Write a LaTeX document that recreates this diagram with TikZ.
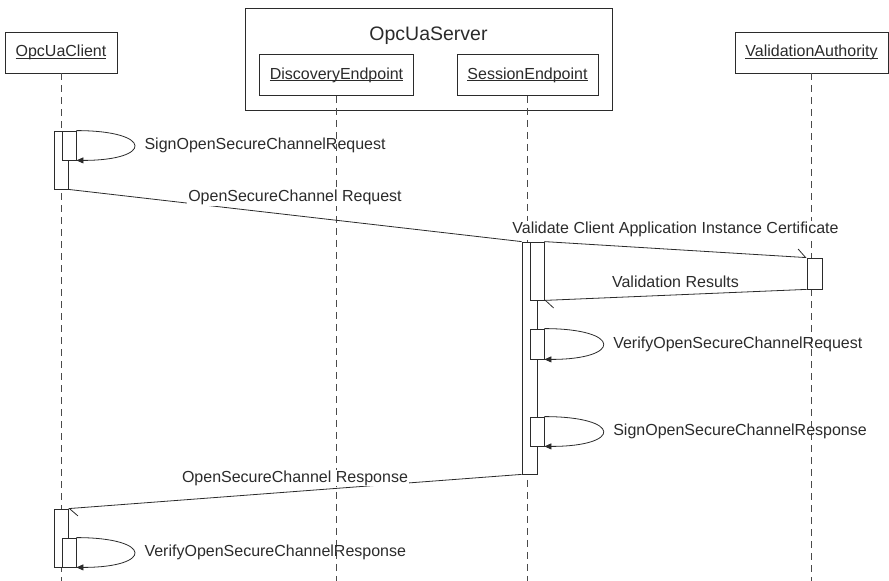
\documentclass[tikz,border=0pt]{standalone}
\usepackage{fontspec}
\setmainfont{Liberation Sans}
\usetikzlibrary{arrows.meta,positioning}
\definecolor{ink}{HTML}{2B2B2B}
\definecolor{lifegray}{HTML}{4A4A4A}
\newcommand\headname[1]{\setbox0\hbox{#1}\rlap{\rule[-1.6pt]{\wd0}{0.6pt}}\box0}

\begin{document}
\begin{tikzpicture}[x=1pt, y=-1pt, line width=0.8pt, every node/.style={font=\fontsize{16}{19}\selectfont, text=ink}]
\tikzset{head/.style={draw=ink, fill=white, minimum height=41pt, inner sep=0pt}}
\tikzset{act/.style={draw=ink, fill=white, minimum width=14pt, inner sep=0pt}}
\tikzset{life/.style={draw=lifegray, dash pattern=on 7pt off 5pt}}
\tikzset{msg/.style={draw=ink, -{Straight Barb[left, length=8pt, width=16pt]}}}
\tikzset{selfmsg/.style={draw=ink, -{Triangle[length=7pt, width=6pt]}}}
\tikzset{lbl/.style={fill=white, inner xsep=1pt, inner ysep=1pt}}
\tikzset{selflbl/.style={anchor=west, xshift=10pt, inner sep=0pt}}
\useasboundingbox (0,0) rectangle (889,581);

% heads
\node[head, minimum width=112pt] (client) at (61,52.5) {\headname{OpcUaClient}};
\node[draw=ink, minimum width=367pt, minimum height=102pt] (server) at (428.5,59) {};
\node[font=\fontsize{19.5}{23}\selectfont] (srvname) at (428.5,36) {OpcUaServer};
\node[head, minimum width=154pt] (disc) at (336.5,75) {\headname{DiscoveryEndpoint}};
\node[head, minimum width=141pt] (sess) at (527.5,75) {\headname{SessionEndpoint}};
\node[head, minimum width=153pt] (auth) at (811.5,52.5) {\headname{ValidationAuthority}};

% lifelines
\coordinate (client-end) at (61,581);
\coordinate (disc-end) at (336.5,581);
\coordinate (sess-end) at (527.5,581);
\coordinate (auth-end) at (811.5,581);
\draw[life] (client) -- (client-end);
\draw[life] (disc) -- (disc-end);
\draw[life] (sess) -- (sess-end);
\draw[life] (auth) -- (auth-end);

% activations
\node[act, minimum height=58pt] (ca1) at (61,160) {};
\node[act, minimum height=29pt] (ci1) at (69,145.5) {};
\node[act, minimum width=15pt, minimum height=232pt] (sa1) at (529.5,358) {};
\node[act, minimum height=58pt] (si1) at (537,271) {};
\node[act, minimum width=15pt, minimum height=31pt] (va1) at (814.5,273.5) {};
\node[act, minimum height=30pt] (sv1) at (537,344) {};
\node[act, minimum height=29pt] (ss1) at (537,431.5) {};
\node[act, minimum height=58pt] (ca2) at (61,538) {};
\node[act, minimum height=29pt] (ci2) at (69,552.5) {};

% messages
\draw[selfmsg] (ci1.north east) .. controls ([xshift=77pt]ci1.north east) and ([xshift=77pt]ci1.south east) .. node[pos=0.5, selflbl]{SignOpenSecureChannelRequest} (ci1.south east);
\draw[draw=ink] (ca1.south east) -- node[lbl, yshift=18pt]{OpenSecureChannel Request} (sa1.north west);
\draw[msg] (si1.north east) -- node[lbl, yshift=20pt]{Validate Client Application Instance Certificate} (va1.north west);
\draw[msg] (va1.south west) -- node[lbl, yshift=13.5pt]{Validation Results} (si1.south east);
\draw[selfmsg] (sv1.north east) .. controls ([xshift=78pt]sv1.north east) and ([xshift=78pt]sv1.south east) .. node[pos=0.5, selflbl]{VerifyOpenSecureChannelRequest} (sv1.south east);
\draw[selfmsg] (ss1.north east) .. controls ([xshift=78pt]ss1.north east) and ([xshift=78pt]ss1.south east) .. node[pos=0.5, selflbl]{SignOpenSecureChannelResponse} (ss1.south east);
\draw[msg] (sa1.south west) -- node[lbl, yshift=13.5pt]{OpenSecureChannel Response} (ca2.north east);
\draw[selfmsg] (ci2.north east) .. controls ([xshift=77pt]ci2.north east) and ([xshift=77pt]ci2.south east) .. node[pos=0.5, selflbl]{VerifyOpenSecureChannelResponse} (ci2.south east);
\end{tikzpicture}
\end{document}
